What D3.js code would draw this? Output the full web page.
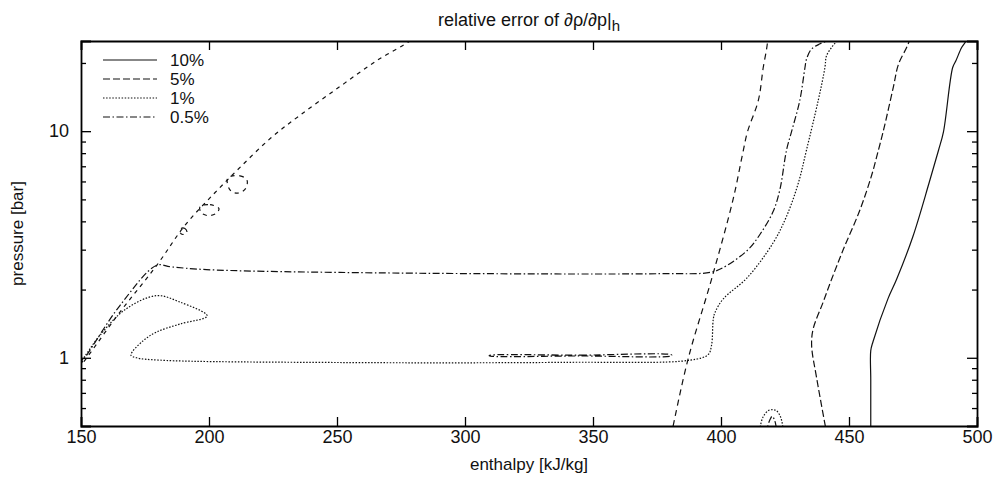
<!DOCTYPE html>
<html>
<head>
<meta charset="utf-8">
<script src="https://cdn.jsdelivr.net/npm/d3@7"></script>
<style>
  body { margin: 0; background: #fff; }
  text { font-family: "Liberation Sans", Arial, Helvetica, sans-serif; fill: #111; }
</style>
</head>
<body>
<div id="chart"></div>
<script>
// 1: DATA (enthalpy kJ/kg, pressure bar)
const legendLabels = ["10%", "5%", "1%", "0.5%"];
const xTickValues = [150, 200, 250, 300, 350, 400, 450, 500];
const yMajorTicks = [1, 10];
const yMinorTicks = [0.6, 0.7, 0.8, 0.9, 2, 3, 4, 5, 6, 7, 8, 9, 20];

// 10% contour
const err10 = [[458.5, 0.45], [458.5, 0.8], [458.5, 1.076], [459.4, 1.18], [465.2, 1.82], [468.6, 2.22],
  [475, 3.44], [481.3, 5.92], [485, 8.26], [486.9, 9.93], [490.5, 19.1], [491.8, 20.5], [494, 23.4], [495.7, 25], [496.5, 27]];

// 5% contour
const err5 = [[441.5, 0.45], [437.4, 0.81], [435.4, 1.135], [436, 1.34], [439.9, 1.76], [443.2, 2.22],
  [447.8, 3.01], [454.3, 4.5], [458.9, 6.42], [461.5, 8.26], [463.3, 9.9], [467.3, 15.6], [469.3, 19.7],
  [472.5, 23.4], [473.5, 25], [474, 27]];

// short dashed contours: left diagonal, right steep line, small loops on the diagonal
const diagLeft = [[149, 0.9], [150, 0.925], [165, 1.58], [179.6, 2.56], [190.6, 3.84], [202.3, 5.35], [212, 6.9],
  [224, 9.3], [235.5, 11.75], [251, 15.7], [265.6, 20.5], [278.5, 25], [282, 27]];
const diagRight = [[380.5, 0.45], [381.3, 0.5], [387.2, 0.993], [396.3, 2.22], [404.7, 4.99], [408.5, 8.0],
  [410.3, 9.9], [414.6, 13.7], [416.5, 19.1], [417.8, 23], [418.2, 25], [418.3, 27]];
const loopA = [[207.4, 6.23], [212.1, 6.35], [214.8, 6.10], [214.5, 5.63], [212.1, 5.35], [209.0, 5.40], [207.4, 5.74]];
const loopB = [[196.5, 4.65], [200.4, 4.74], [203.9, 4.55], [202.7, 4.33], [199.6, 4.24], [196.9, 4.37]];
const loopC = [[189.1, 3.72], [190.6, 3.72], [191.4, 3.57], [189.8, 3.50], [188.7, 3.57]];

// 1% contour
const err1 = [[149, 0.93], [150, 0.96], [157.4, 1.256], [167.5, 1.64], [179.6, 1.88], [188.7, 1.76], [199.3, 1.53],
  [188.7, 1.41], [179.6, 1.30], [174.3, 1.19], [169.5, 1.027], [171.7, 1.0], [180.9, 0.976], [251.2, 0.953],
  [340, 0.955], [387.9, 0.976], [395, 1.034], [396.3, 1.135], [397, 1.486], [397.7, 1.59], [400.9, 1.82],
  [410.3, 2.26], [420.4, 3.22], [425.6, 4.21], [430.2, 5.9], [433.4, 8.26], [438, 13.7], [440.6, 19.1],
  [441.2, 21.5], [443.2, 23.4], [445.2, 25], [447, 27]];
const err1Arch = [[415.2, 0.45], [415.4, 0.5], [416.5, 0.55], [418.5, 0.585], [420, 0.59], [421.6, 0.585],
  [423.2, 0.55], [424.1, 0.5], [424.3, 0.45]];

// 0.5% contour
const err05 = [[149, 0.92], [150, 0.944], [165.2, 1.70], [179.6, 2.56], [185, 2.52], [199, 2.45], [251, 2.38],
  [376, 2.35], [396.4, 2.39], [402.2, 2.55], [410.7, 3.01], [415.2, 3.50], [420.4, 4.43], [423, 5.52],
  [425.6, 8.26], [427.5, 9.9], [430.8, 13.7], [432.8, 19.1], [433.4, 20.8], [435.3, 23.0], [438.7, 24.3],
  [441.3, 25], [444, 26]];
const err05Arch = [[418.1, 0.45], [418.3, 0.5], [419.2, 0.535], [420, 0.552], [420.8, 0.535], [421.5, 0.5], [421.7, 0.45]];
const err05Thin = [[309.5, 1.024], [345, 1.027], [380.7, 1.03], [380.7, 1.021], [345, 1.019], [309.5, 1.02]];

// 2: LAYOUT + STYLES
const margin = { top: 41, right: 27, bottom: 54, left: 81 };
const width = 1004 - margin.left - margin.right;
const height = 480 - margin.top - margin.bottom;

const dashStyles = {
  "10%": null,
  "5%": "7,3",
  "1%": "1.5,1.6",
  "0.5%": "7,2.5,1.5,2.5",
  "short": "4,4.5",
  "shortSteep": "6,4.5"
};

const contours = [
  { pts: err10, style: "10%" },
  { pts: err5, style: "5%" },
  { pts: diagLeft, style: "short" },
  { pts: diagRight, style: "shortSteep" },
  { pts: loopA, style: "short", closed: true },
  { pts: loopB, style: "short", closed: true },
  { pts: loopC, style: "short", closed: true },
  { pts: err1, style: "1%" },
  { pts: err1Arch, style: "1%" },
  { pts: err05, style: "0.5%" },
  { pts: err05Arch, style: "0.5%" },
  { pts: err05Thin, style: "0.5%", closed: true }
];

const svg = d3.select("#chart")
  .append("svg")
  .attr("width", 1004)
  .attr("height", 480);

const g = svg.append("g")
  .attr("transform", `translate(${margin.left},${margin.top})`);

// 3: SCALES
const xScale = d3.scaleLinear().domain([150, 500]).range([0, width]);
const yScale = d3.scaleLog().domain([0.5, 25]).range([height, 0]);

// 4: CONTOURS
g.append("clipPath").attr("id", "plotClip")
  .append("rect").attr("width", width).attr("height", height);

const openLine = d3.line()
  .x(d => xScale(d[0]))
  .y(d => yScale(d[1]))
  .curve(d3.curveCatmullRom.alpha(0.5));

const closedLine = d3.line()
  .x(d => xScale(d[0]))
  .y(d => yScale(d[1]))
  .curve(d3.curveCatmullRomClosed.alpha(0.5));

g.append("g")
  .attr("clip-path", "url(#plotClip)")
  .selectAll("path")
  .data(contours)
  .enter().append("path")
  .attr("fill", "none")
  .attr("stroke", "#111")
  .attr("stroke-width", 1.2)
  .attr("stroke-dasharray", d => dashStyles[d.style])
  .attr("d", d => d.closed ? closedLine(d.pts) : openLine(d.pts));

// 5: AXES (ticks pointing inward on all four sides)
function styleAxis(sel) {
  sel.select(".domain").attr("stroke", "#000").attr("stroke-width", 1.8);
  sel.selectAll(".tick line").attr("stroke", "#000").attr("stroke-width", 1.3);
  sel.selectAll(".tick text").style("font-size", "18px").attr("fill", "#111");
}

g.append("g")
  .attr("transform", `translate(0,${height})`)
  .call(d3.axisBottom(xScale).tickValues(xTickValues).tickSize(-9).tickPadding(4).tickFormat(d3.format("d")))
  .call(styleAxis);

g.append("g")
  .call(d3.axisTop(xScale).tickValues(xTickValues).tickSize(-9).tickFormat(""))
  .call(styleAxis);

g.append("g")
  .call(d3.axisLeft(yScale).tickValues(yMajorTicks).tickSize(-10).tickPadding(12).tickFormat(d3.format("d")))
  .call(styleAxis);

g.append("g")
  .call(d3.axisLeft(yScale).tickValues(yMinorTicks).tickSize(-5).tickFormat(""))
  .call(styleAxis)
  .select(".domain").remove();

g.append("g")
  .attr("transform", `translate(${width},0)`)
  .call(d3.axisRight(yScale).tickValues(yMajorTicks).tickSize(-10).tickFormat(""))
  .call(styleAxis);

g.append("g")
  .attr("transform", `translate(${width},0)`)
  .call(d3.axisRight(yScale).tickValues(yMinorTicks).tickSize(-5).tickFormat(""))
  .call(styleAxis)
  .select(".domain").remove();

// 6: LABELS
const title = svg.append("text")
  .attr("x", margin.left + width / 2)
  .attr("y", 26)
  .attr("text-anchor", "middle")
  .style("font-size", "18px")
  .text("relative error of ∂ρ/∂p|");
title.append("tspan")
  .attr("dy", 5)
  .style("font-size", "15px")
  .text("h");

svg.append("text")
  .attr("x", margin.left + width / 2)
  .attr("y", 470)
  .attr("text-anchor", "middle")
  .style("font-size", "17px")
  .text("enthalpy [kJ/kg]");

svg.append("text")
  .attr("transform", `translate(23,${margin.top + height / 2}) rotate(-90)`)
  .attr("text-anchor", "middle")
  .style("font-size", "17px")
  .text("pressure [bar]");

// 7: LEGEND
const legend = g.append("g")
  .attr("transform", "translate(22,19)");

const legendRows = legend.selectAll("g")
  .data(legendLabels)
  .enter().append("g")
  .attr("transform", (d, i) => `translate(0,${i * 19})`);

legendRows.append("line")
  .attr("x1", 0).attr("x2", 54)
  .attr("stroke", "#111")
  .attr("stroke-width", 1.2)
  .attr("stroke-dasharray", d => dashStyles[d]);

legendRows.append("text")
  .attr("x", 67)
  .attr("y", 6)
  .style("font-size", "17px")
  .text(d => d);
</script>
</body>
</html>
